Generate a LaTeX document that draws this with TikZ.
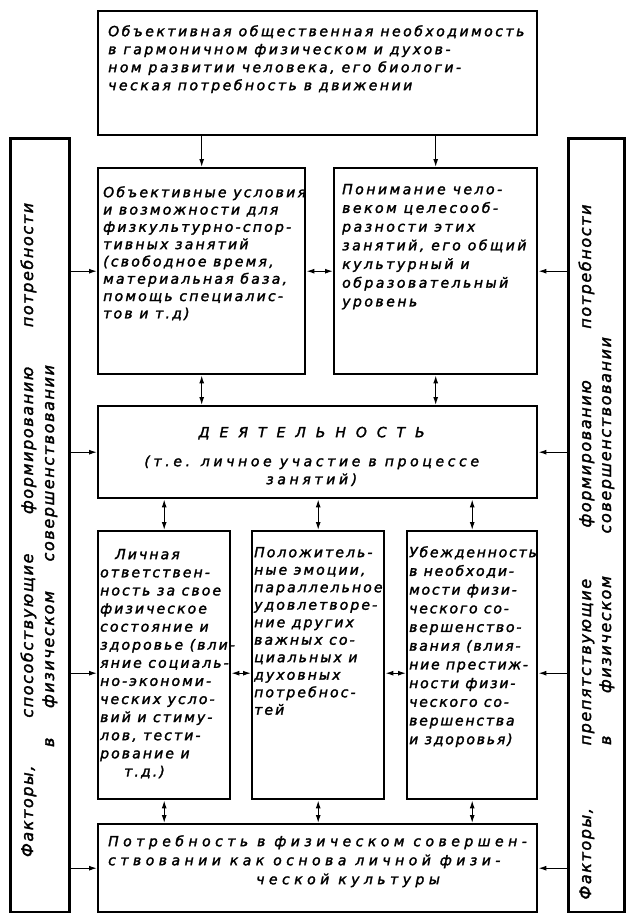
\documentclass[tikz,border=0pt]{standalone}
\usepackage{fontspec}
\newfontfamily\drawfont{DejaVu Sans Oblique}[FakeBold=2]
\newcommand{\lsfont}[3]{\drawfont\fontsize{#1}{#2}\selectfont\addfontfeatures{LetterSpace=#3}}
\usetikzlibrary{arrows.meta,calc}

\begin{document}
\begin{tikzpicture}[x=1pt, y=-1pt,
  bx/.style={draw, line width=2.4pt, inner sep=0pt, anchor=north west},
  sbx/.style={draw, line width=2.8pt, inner sep=0pt, anchor=north west},
  tx/.style={anchor=north west, align=left, inner sep=0pt},
  stx/.style={anchor=base, rotate=90, inner sep=0pt, font={\lsfont{16}{20}{10}}},
  arr/.style={-{Latex[length=8pt,width=5pt]}, line width=1.2pt},
  darr/.style={{Latex[length=8pt,width=5pt]}-{Latex[length=8pt,width=5pt]}, line width=1.2pt}]
\useasboundingbox (0,0) rectangle (625,913);
% Boxes
\node[bx, minimum width=439pt, minimum height=124pt] (need) at (97,10) {};
\node[bx, minimum width=207pt, minimum height=206pt] (cond) at (97,167) {};
\node[bx, minimum width=203pt, minimum height=206pt] (underst) at (333,167) {};
\node[bx, minimum width=439pt, minimum height=92pt] (act) at (97,405) {};
\node[bx, minimum width=132pt, minimum height=268pt] (resp) at (97,530) {};
\node[bx, minimum width=132pt, minimum height=268pt] (emo) at (251,530) {};
\node[bx, minimum width=130pt, minimum height=268pt] (conv) at (406,530) {};
\node[bx, minimum width=439pt, minimum height=88pt] (base) at (97,823) {};
\node[sbx, minimum width=59pt, minimum height=774pt] (leftf) at (9,137) {};
\node[sbx, minimum width=56pt, minimum height=774pt] (rightf) at (567,137) {};
% Texts
\node[tx, font={\lsfont{14}{18}{18}}] (needtxt) at ($(need.north west)+(11,13.4)$) {\strut Объективная общественная необходимость\\
в гармоничном физическом и духов-\\
ном развитии человека, его биологи-\\
ческая потребность в движении};
\node[tx, font={\lsfont{14}{17.3}{16}}] (condtxt) at ($(cond.north west)+(6,17.9)$) {\strut Объективные условия\\
и возможности для\\
физкультурно-спор-\\
тивных занятий\\
(свободное время,\\
материальная база,\\
помощь специалис-\\
тов и т.д)};
\node[tx, font={\lsfont{14}{18.7}{18}}] (understxt) at ($(underst.north west)+(9,13.9)$) {\strut Понимание чело-\\
веком целесооб-\\
разности этих\\
занятий, его общий\\
культурный и\\
образовательный\\
уровень};
\node[tx, anchor=north, align=center, font={\lsfont{14}{18}{26}}] (acttxt) at ($(act.north)+(-6,19.4)$) {\strut\makebox[226pt][s]{Д Е Я Т Е Л Ь Н О С Т Ь}\\[11pt]
(т.е. личное участие в процессе\\
занятий)};
\node[tx, font={\lsfont{14}{18.1}{15}}] (resptxt) at ($(resp.north west)+(3,16.3)$) {\strut\hspace*{15pt}Личная\\
ответствен-\\
ность за свое\\
физическое\\
состояние и\\
здоровье (вли-\\
яние социаль-\\
но-экономи-\\
ческих усло-\\
вий и стиму-\\
лов, тести-\\
рование и\\
\hspace*{24pt}т.д.)};
\node[tx, font={\lsfont{14}{17.5}{15}}] (emotxt) at ($(emo.north west)+(3,14.75)$) {\strut Положитель-\\
ные эмоции,\\
параллельное\\
удовлетворе-\\
ние других\\
важных со-\\
циальных и\\
духовных\\
потребнос-\\
тей};
\node[tx, font={\lsfont{14}{18.7}{13}}] (convtxt) at ($(conv.north west)+(3,13.9)$) {\strut Убежденность\\
в необходи-\\
мости физи-\\
ческого со-\\
вершенство-\\
вания (влия-\\
ние престиж-\\
ности физи-\\
ческого со-\\
вершенства\\
и здоровья)};
\node[tx, font={\lsfont{14}{19}{32}}] (basetxt) at ($(base.north west)+(11,9.7)$) {\strut Потребность в физическом совершен-\\
ствовании как основа личной физи-\\
\hspace*{148pt}ческой культуры};
\node[stx] (leftlbla) at (33,530) {\makebox[654pt][s]{Факторы, способствующие формированию потребности}};
\node[stx] (leftlblb) at (54,556) {\makebox[382pt][s]{в физическом совершенствовании}};
\node[stx] (rightlbla) at (591,552) {\makebox[695pt][s]{Факторы, препятствующие формированию потребности}};
\node[stx] (rightlblb) at (611,541) {\makebox[408pt][s]{в физическом совершенствовании}};
% Arrows down from the need
\draw[arr] (need.south -| cond.north) -- (cond.north);
\draw[arr] (need.south -| underst.north) -- (underst.north);
\draw[darr] (cond.east) -- (underst.west);
\draw[darr] (cond.south) -- (cond.south |- act.north);
\draw[darr] (underst.south) -- (underst.south |- act.north);
% Activity and the three boxes
\foreach \b in {resp,emo,conv}{
  \draw[darr] (\b.north |- act.south) -- (\b.north);
  \draw[darr] (\b.south) -- (\b.south |- base.north);
}
\coordinate (respin) at ([yshift=-8pt]resp.west);
\coordinate (convin) at ([yshift=-8pt]conv.east);
\draw[darr] ([yshift=-8pt]resp.east) -- ([yshift=-8pt]emo.west);
\draw[darr] ([yshift=-8pt]emo.east) -- ([yshift=-8pt]conv.west);
% Factors
\foreach \b in {cond,act,base}{
  \draw[arr] (leftf.east |- \b.west) -- (\b.west);
}
\draw[arr] (leftf.east |- respin) -- (respin);
\foreach \b in {underst,act,base}{
  \draw[arr] (rightf.west |- \b.east) -- (\b.east);
}
\draw[arr] (rightf.west |- convin) -- (convin);
\end{tikzpicture}
\end{document}
